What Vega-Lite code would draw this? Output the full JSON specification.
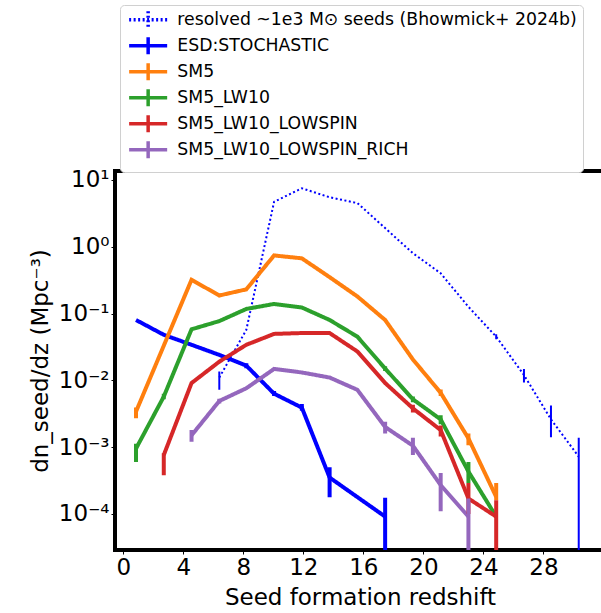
{
  "$schema": "https://vega.github.io/schema/vega-lite/v6.json",
  "width": 490,
  "height": 379,
  "autosize": {"type": "none"},
  "padding": {"left": 115, "top": 171, "right": 0, "bottom": 63},
  "config": {
    "font": "DejaVu Sans",
    "view": {"stroke": "black", "strokeWidth": 4},
    "axis": {"labelColor": "black", "titleColor": "black", "tickColor": "black", "titleFontWeight": "normal", "labelFont": "DejaVu Sans", "titleFont": "DejaVu Sans"}
  },
  "data": {"values": [
    {"s": "resolved ~1e3 M⊙ seeds (Bhowmick+ 2024b)", "z": 6.4, "y": 0.011, "lo": 0.0072, "hi": 0.0135},
    {"s": "resolved ~1e3 M⊙ seeds (Bhowmick+ 2024b)", "z": 8.2, "y": 0.057},
    {"s": "resolved ~1e3 M⊙ seeds (Bhowmick+ 2024b)", "z": 10.05, "y": 4.7},
    {"s": "resolved ~1e3 M⊙ seeds (Bhowmick+ 2024b)", "z": 11.9, "y": 7.5},
    {"s": "resolved ~1e3 M⊙ seeds (Bhowmick+ 2024b)", "z": 13.75, "y": 5.5},
    {"s": "resolved ~1e3 M⊙ seeds (Bhowmick+ 2024b)", "z": 15.6, "y": 4.5},
    {"s": "resolved ~1e3 M⊙ seeds (Bhowmick+ 2024b)", "z": 17.45, "y": 1.9},
    {"s": "resolved ~1e3 M⊙ seeds (Bhowmick+ 2024b)", "z": 19.3, "y": 0.8},
    {"s": "resolved ~1e3 M⊙ seeds (Bhowmick+ 2024b)", "z": 21.15, "y": 0.4},
    {"s": "resolved ~1e3 M⊙ seeds (Bhowmick+ 2024b)", "z": 23.0, "y": 0.126},
    {"s": "resolved ~1e3 M⊙ seeds (Bhowmick+ 2024b)", "z": 24.85, "y": 0.045, "lo": 0.041, "hi": 0.049},
    {"s": "resolved ~1e3 M⊙ seeds (Bhowmick+ 2024b)", "z": 26.7, "y": 0.012, "lo": 0.0093, "hi": 0.0148},
    {"s": "resolved ~1e3 M⊙ seeds (Bhowmick+ 2024b)", "z": 28.5, "y": 0.0026, "lo": 0.0014, "hi": 0.0042},
    {"s": "resolved ~1e3 M⊙ seeds (Bhowmick+ 2024b)", "z": 30.35, "y": 0.00072, "lo": 0.000001, "hi": 0.00138},

    {"s": "ESD:STOCHASTIC", "z": 0.85, "y": 0.08},
    {"s": "ESD:STOCHASTIC", "z": 2.7, "y": 0.048},
    {"s": "ESD:STOCHASTIC", "z": 4.55, "y": 0.034},
    {"s": "ESD:STOCHASTIC", "z": 6.4, "y": 0.024},
    {"s": "ESD:STOCHASTIC", "z": 8.2, "y": 0.0166, "lo": 0.0152, "hi": 0.018},
    {"s": "ESD:STOCHASTIC", "z": 10.05, "y": 0.0063, "lo": 0.0058, "hi": 0.0069},
    {"s": "ESD:STOCHASTIC", "z": 11.9, "y": 0.0039, "lo": 0.0035, "hi": 0.0044},
    {"s": "ESD:STOCHASTIC", "z": 13.75, "y": 0.00035, "lo": 0.000178, "hi": 0.0005},
    {"s": "ESD:STOCHASTIC", "z": 17.45, "y": 0.000091, "lo": 0.000001, "hi": 0.000174},

    {"s": "SM5", "z": 0.85, "y": 0.0034, "lo": 0.0027, "hi": 0.0039},
    {"s": "SM5", "z": 4.55, "y": 0.32},
    {"s": "SM5", "z": 6.4, "y": 0.186},
    {"s": "SM5", "z": 8.2, "y": 0.23},
    {"s": "SM5", "z": 10.05, "y": 0.74},
    {"s": "SM5", "z": 11.9, "y": 0.67},
    {"s": "SM5", "z": 13.75, "y": 0.35},
    {"s": "SM5", "z": 15.6, "y": 0.18},
    {"s": "SM5", "z": 17.45, "y": 0.08},
    {"s": "SM5", "z": 19.3, "y": 0.0205},
    {"s": "SM5", "z": 21.15, "y": 0.0065, "lo": 0.0058, "hi": 0.0073},
    {"s": "SM5", "z": 23.0, "y": 0.00135, "lo": 0.00107, "hi": 0.0016},
    {"s": "SM5", "z": 24.85, "y": 0.00018, "lo": 0.00016, "hi": 0.00029},

    {"s": "SM5_LW10", "z": 0.85, "y": 0.00095, "lo": 0.0006, "hi": 0.00112},
    {"s": "SM5_LW10", "z": 2.7, "y": 0.0057, "lo": 0.0052, "hi": 0.0063},
    {"s": "SM5_LW10", "z": 4.55, "y": 0.058},
    {"s": "SM5_LW10", "z": 6.4, "y": 0.077},
    {"s": "SM5_LW10", "z": 8.2, "y": 0.117},
    {"s": "SM5_LW10", "z": 10.05, "y": 0.139},
    {"s": "SM5_LW10", "z": 11.9, "y": 0.123},
    {"s": "SM5_LW10", "z": 13.75, "y": 0.08},
    {"s": "SM5_LW10", "z": 15.6, "y": 0.045},
    {"s": "SM5_LW10", "z": 17.45, "y": 0.015, "lo": 0.0138, "hi": 0.0163},
    {"s": "SM5_LW10", "z": 19.3, "y": 0.0052, "lo": 0.0047, "hi": 0.0057},
    {"s": "SM5_LW10", "z": 21.15, "y": 0.0026, "lo": 0.0022, "hi": 0.003},
    {"s": "SM5_LW10", "z": 23.0, "y": 0.00043, "lo": 0.00029, "hi": 0.0006},
    {"s": "SM5_LW10", "z": 24.85, "y": 0.000091},

    {"s": "SM5_LW10_LOWSPIN", "z": 2.7, "y": 0.00076, "lo": 0.00038, "hi": 0.00081},
    {"s": "SM5_LW10_LOWSPIN", "z": 4.55, "y": 0.0091},
    {"s": "SM5_LW10_LOWSPIN", "z": 6.4, "y": 0.019},
    {"s": "SM5_LW10_LOWSPIN", "z": 8.2, "y": 0.034},
    {"s": "SM5_LW10_LOWSPIN", "z": 10.05, "y": 0.0495},
    {"s": "SM5_LW10_LOWSPIN", "z": 11.9, "y": 0.051},
    {"s": "SM5_LW10_LOWSPIN", "z": 13.75, "y": 0.051},
    {"s": "SM5_LW10_LOWSPIN", "z": 15.6, "y": 0.027},
    {"s": "SM5_LW10_LOWSPIN", "z": 17.45, "y": 0.0091},
    {"s": "SM5_LW10_LOWSPIN", "z": 19.3, "y": 0.0038, "lo": 0.0033, "hi": 0.0043},
    {"s": "SM5_LW10_LOWSPIN", "z": 21.15, "y": 0.0018, "lo": 0.00144, "hi": 0.0021},
    {"s": "SM5_LW10_LOWSPIN", "z": 23.0, "y": 0.00017, "lo": 0.0001, "hi": 0.00029},
    {"s": "SM5_LW10_LOWSPIN", "z": 24.85, "y": 0.000091, "lo": 0.000001, "hi": 0.00016},

    {"s": "SM5_LW10_LOWSPIN_RICH", "z": 4.55, "y": 0.0015, "lo": 0.0012, "hi": 0.0018},
    {"s": "SM5_LW10_LOWSPIN_RICH", "z": 6.4, "y": 0.0049, "lo": 0.0045, "hi": 0.0053},
    {"s": "SM5_LW10_LOWSPIN_RICH", "z": 8.2, "y": 0.0076},
    {"s": "SM5_LW10_LOWSPIN_RICH", "z": 10.05, "y": 0.0148},
    {"s": "SM5_LW10_LOWSPIN_RICH", "z": 11.9, "y": 0.0131},
    {"s": "SM5_LW10_LOWSPIN_RICH", "z": 13.75, "y": 0.011},
    {"s": "SM5_LW10_LOWSPIN_RICH", "z": 15.6, "y": 0.0072},
    {"s": "SM5_LW10_LOWSPIN_RICH", "z": 17.45, "y": 0.002, "lo": 0.0016, "hi": 0.0024},
    {"s": "SM5_LW10_LOWSPIN_RICH", "z": 19.3, "y": 0.00105, "lo": 0.00076, "hi": 0.00138},
    {"s": "SM5_LW10_LOWSPIN_RICH", "z": 21.15, "y": 0.00027, "lo": 0.00011, "hi": 0.00041},
    {"s": "SM5_LW10_LOWSPIN_RICH", "z": 23.0, "y": 0.000091, "lo": 0.000001, "hi": 0.00017}
  ]},
  "encoding": {
    "x": {
      "field": "z", "type": "quantitative",
      "scale": {"domain": [-0.55, 32.1], "nice": false, "zero": false},
      "axis": {"title": "Seed formation redshift", "values": [0, 4, 8, 12, 16, 20, 24, 28], "grid": false, "domain": false, "tickSize": 4, "labelFontSize": 23, "titleFontSize": 23, "labelPadding": 2, "titlePadding": 7, "labelFlush": false}
    },
    "color": {
      "field": "s", "type": "nominal",
      "scale": {
        "domain": ["resolved ~1e3 M⊙ seeds (Bhowmick+ 2024b)", "ESD:STOCHASTIC", "SM5", "SM5_LW10", "SM5_LW10_LOWSPIN", "SM5_LW10_LOWSPIN_RICH"],
        "range": ["#0000ff", "#0000ff", "#ff7f0e", "#2ca02c", "#d62728", "#9467bd"]
      },
      "legend": {
        "orient": "none", "legendX": 5, "legendY": -166, "title": null,
        "symbolType": "M-3.17,0H3.17M0,-1.42V1.42", "symbolSize": 144, "symbolStrokeWidth": 3.5,
        "labelFontSize": 17.3, "labelFont": "DejaVu Sans", "labelColor": "black",
        "strokeColor": "#d0d0d0", "cornerRadius": 4, "padding": 6, "rowPadding": -6,
        "labelOffset": 20.5, "symbolOffset": 13.5, "labelLimit": 0, "fillColor": "white"
      }
    },
    "strokeDash": {
      "field": "s", "type": "nominal",
      "scale": {
        "domain": ["resolved ~1e3 M⊙ seeds (Bhowmick+ 2024b)", "ESD:STOCHASTIC", "SM5", "SM5_LW10", "SM5_LW10_LOWSPIN", "SM5_LW10_LOWSPIN_RICH"],
        "range": [[2, 2.5], [1, 0], [1, 0], [1, 0], [1, 0], [1, 0]]
      },
      "legend": null
    },
    "y": {
      "field": "y", "type": "quantitative",
      "scale": {"type": "log", "domain": [0.0000288, 13.6], "nice": false},
      "axis": {
        "title": "dn_seed/dz (Mpc⁻³)", "values": [0.0001, 0.001, 0.01, 0.1, 1, 10],
        "labelExpr": "datum.value > 5 ? '10¹' : datum.value > 0.5 ? '10⁰' : datum.value > 0.05 ? '10⁻¹' : datum.value > 0.005 ? '10⁻²' : datum.value > 0.0005 ? '10⁻³' : '10⁻⁴'",
        "grid": false, "domain": false, "tickSize": 4, "labelFontSize": 23, "titleFontSize": 23, "labelPadding": 2, "titlePadding": 6
      }
    }
  },
  "layer": [
    {
      "transform": [{"filter": "indexof(datum.s, 'resolved') == 0"}],
      "mark": {"type": "line", "clip": true, "strokeWidth": 2}
    },
    {
      "transform": [{"filter": "indexof(datum.s, 'resolved') != 0"}],
      "mark": {"type": "line", "clip": true, "strokeWidth": 4}
    },
    {
      "transform": [{"filter": "isValid(datum.lo) && indexof(datum.s, 'resolved') == 0"}],
      "mark": {"type": "rule", "clip": true, "strokeWidth": 2},
      "encoding": {
        "y": {"field": "lo", "type": "quantitative"},
        "y2": {"field": "hi"},
        "strokeDash": {"value": [1, 0]}
      }
    },
    {
      "transform": [{"filter": "isValid(datum.lo) && indexof(datum.s, 'resolved') != 0"}],
      "mark": {"type": "rule", "clip": true, "strokeWidth": 4},
      "encoding": {
        "y": {"field": "lo", "type": "quantitative"},
        "y2": {"field": "hi"},
        "strokeDash": {"value": [1, 0]}
      }
    }
  ]
}
